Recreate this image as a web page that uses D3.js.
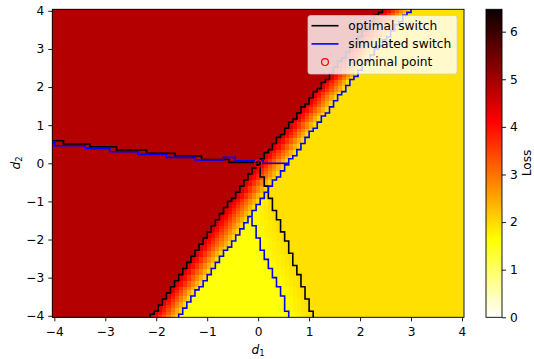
<!DOCTYPE html>
<html>
<head>
<meta charset="utf-8">
<script src="https://cdn.jsdelivr.net/npm/d3@7"></script>
<style>
  body { margin: 0; background: #fff; }
  svg { display: block; font-family: "DejaVu Sans", sans-serif; }
</style>
</head>
<body>
<script>
// ---- data ----
const xTicks = [-4, -3, -2, -1, 0, 1, 2, 3, 4];
const yTicks = [-4, -3, -2, -1, 0, 1, 2, 3, 4];
const lossTicks = [0, 1, 2, 3, 4, 5, 6];
const lossMax = 6.47;

// loss levels of the regions
const lossUpperLeft = 4.83;
const lossBandEnd = 2.0;
const lossTriangle = 1.60;
const lossRight = 1.94;

// switch curves [d1, d2]
const optBranch = [[-4.04, 0.59], [-3.82, 0.505], [-3.30, 0.435], [-2.78, 0.347], [-2.19, 0.26],
  [-1.63, 0.19], [-1.11, 0.10], [-0.57, 0.023], [0, 0.023]];
const simBranch = [[-4.04, 0.54], [-3.99, 0.461], [-3.40, 0.391], [-2.91, 0.303], [-2.35, 0.233],
  [-1.80, 0.155], [-1.24, 0.085], [-0.68, 0.155], [-0.45, 0.067], [0.10, 0.0], [0.59, 0.0]];
const optDiag = [[-2.19, -4.04], [-2.02, -3.94], [-0.55, -1.01], [0, 0], [0.43, 0.70], [1.41, 2.32], [2.43, 4.04]];
const simDiag = [[-1.57, -4.04], [-0.15, -1.40], [0.0, -1.04], [0.59, 0.0], [1.02, 0.78], [2.0, 2.45], [2.99, 4.04]];
const optLower = [[1.08, -4.04], [0.76, -2.80], [0.46, -1.71], [0.2, -0.79], [0.04, -0.18], [0, 0]];
const simLower = [[0.59, -4.04], [0.46, -3.41], [0.36, -3.11], [0.25, -2.8], [0.10, -2.35], [-0.05, -1.75], [-0.16, -1.42]];
const nominal = [[0, 0]];

// hot_r colormap anchors
const hotStops = [0, 0.253968, 0.634921, 1];
const hotColors = ["#ffffff", "#ffff00", "#ff0000", "#0b0000"];

// ---- layout ----
const W = 534, H = 359;
const step = 0.08, lo = -4.04, nCells = 101;
const x = d3.scaleLinear().domain([-4.04, 4.04]).range([52.3, 464]);
const y = d3.scaleLinear().domain([-4.04, 4.04]).range([317.3, 9.3]);
const color = d3.scaleLinear().domain(hotStops.map(t => t * lossMax)).range(hotColors);

const svg = d3.select("body").append("svg").attr("width", W).attr("height", H);

const edge = k => lo + step * k;
const snap = v => edge(Math.round((v - lo) / step));
const sortY = pts => pts.slice().sort((a, b) => a[1] - b[1]);
const xOfY = pts => { const p = sortY(pts); return d3.scaleLinear().domain(p.map(d => d[1])).range(p.map(d => d[0])); };

const fL = xOfY(optDiag), fB = xOfY(simDiag), fBR = xOfY(simLower), fK = xOfY(optLower);
const apexY = -1.42;

// ---- heatmap ----
const centers = d3.range(nCells).map(i => +(-4 + i * step).toFixed(2));
const cells = [];
centers.forEach(cy => {
  const xeL = snap(fL(cy)), xeB = snap(fB(cy));
  const xeBR = cy < apexY ? snap(fBR(cy)) : null;
  const xeK = cy <= 0 ? snap(fK(cy)) : null;
  centers.forEach(cx => {
    let v;
    if (cx < xeL) v = lossUpperLeft;
    else if (cx < xeB) v = lossUpperLeft + (lossBandEnd - lossUpperLeft) * (cx - xeL + step / 2) / (xeB - xeL);
    else if (xeBR !== null && cx < xeBR) v = lossTriangle;
    else if (xeK !== null && cx < xeK) {
      const s = xeBR !== null ? xeBR : xeB;
      v = lossTriangle + (lossRight - lossTriangle) * (cx - s + step / 2) / (xeK - s);
    } else v = lossRight;
    cells.push({ cx, cy, v });
  });
});

svg.append("g").attr("shape-rendering", "crispEdges")
  .selectAll("rect").data(cells).join("rect")
  .attr("x", d => x(d.cx - step / 2))
  .attr("y", d => y(d.cy + step / 2))
  .attr("width", d => x(d.cx + step / 2) - x(d.cx - step / 2) + 0.3)
  .attr("height", d => y(d.cy - step / 2) - y(d.cy + step / 2) + 0.3)
  .attr("fill", d => color(d.v));

// ---- switch lines ----
function stairs(pts) {
  const p = sortY(pts), f = xOfY(pts);
  const y0 = p[0][1], y1 = p[p.length - 1][1];
  const out = [];
  centers.forEach((cy, j) => {
    if (cy < y0 - 1e-9 || cy > y1 + 1e-9) return;
    const xe = snap(f(cy));
    out.push([xe, Math.max(edge(j), y0)], [xe, Math.min(edge(j + 1), y1)]);
  });
  return out;
}
const line = d3.line().x(d => x(d[0])).y(d => y(d[1]));
const stepLine = d3.line().x(d => x(d[0])).y(d => y(d[1])).curve(d3.curveStepAfter);

const lines = svg.append("g").attr("fill", "none").attr("stroke-width", 1.6).attr("stroke-linejoin", "miter");
[optDiag, optLower].forEach(p => lines.append("path").attr("stroke", "#000").attr("d", line(stairs(p))));
lines.append("path").attr("stroke", "#000").attr("d", stepLine(optBranch));
[simDiag, simLower].forEach(p => lines.append("path").attr("stroke", "#0000ff").attr("d", line(stairs(p))));
lines.append("path").attr("stroke", "#0000ff").attr("d", stepLine(simBranch));

svg.append("g").selectAll("circle").data(nominal).join("circle")
  .attr("cx", d => x(d[0])).attr("cy", d => y(d[1])).attr("r", 3.4)
  .attr("fill", "none").attr("stroke", "#ff0000").attr("stroke-width", 1.2);

// ---- axes ----
const fs = 12.2;
const gx = svg.append("g").attr("transform", `translate(0,${y.range()[0]})`)
  .call(d3.axisBottom(x).tickValues(xTicks).tickSize(4.05).tickPadding(6.0));
const gy = svg.append("g").attr("transform", `translate(${x.range()[0]},0)`)
  .call(d3.axisLeft(y).tickValues(yTicks).tickSize(4.05).tickPadding(4.05));
[gx, gy].forEach(g => {
  g.select(".domain").remove();
  g.selectAll(".tick line").attr("stroke", "#000").attr("stroke-width", 0.9);
  g.selectAll(".tick text").attr("fill", "#000").style("font-size", fs + "px").style("font-family", "DejaVu Sans");
});

svg.append("rect")
  .attr("x", x.range()[0]).attr("y", y.range()[1])
  .attr("width", x.range()[1] - x.range()[0]).attr("height", y.range()[0] - y.range()[1])
  .attr("fill", "none").attr("stroke", "#000").attr("stroke-width", 0.9);

const xl = svg.append("text").attr("x", 258).attr("y", 353.5).attr("text-anchor", "middle").style("font-size", fs + "px");
xl.append("tspan").attr("font-style", "italic").text("d");
xl.append("tspan").attr("dy", 2.7).style("font-size", "8.5px").text("1");

const yl = svg.append("text").attr("transform", "translate(19.5,163) rotate(-90)").attr("text-anchor", "middle").style("font-size", fs + "px");
yl.append("tspan").attr("font-style", "italic").text("d");
yl.append("tspan").attr("dy", 2.7).style("font-size", "8.5px").text("2");

// ---- colorbar ----
const cb = { x: 486, w: 16 };
const cScale = d3.scaleLinear().domain([0, lossMax]).range([317.3, 9.3]);
const grad = svg.append("defs").append("linearGradient").attr("id", "hotr")
  .attr("x1", 0).attr("y1", 1).attr("x2", 0).attr("y2", 0);
grad.selectAll("stop").data(hotStops).join("stop")
  .attr("offset", d => d).attr("stop-color", (d, i) => hotColors[i]);
svg.append("rect").attr("x", cb.x).attr("y", cScale.range()[1])
  .attr("width", cb.w).attr("height", cScale.range()[0] - cScale.range()[1])
  .attr("fill", "url(#hotr)").attr("stroke", "#000").attr("stroke-width", 0.9);
const gc = svg.append("g").attr("transform", `translate(${cb.x + cb.w},0)`)
  .call(d3.axisRight(cScale).tickValues(lossTicks).tickFormat(d3.format("d")).tickSize(4.05).tickPadding(4.05));
gc.select(".domain").remove();
gc.selectAll(".tick line").attr("stroke", "#000").attr("stroke-width", 0.9);
gc.selectAll(".tick text").attr("fill", "#000").style("font-size", fs + "px").style("font-family", "DejaVu Sans");
svg.append("text").attr("transform", "translate(531,163) rotate(-90)").attr("text-anchor", "middle")
  .style("font-size", fs + "px").text("Loss");

// ---- legend ----
const legendItems = ["optimal switch", "simulated switch", "nominal point"];
const lg = svg.append("g");
lg.append("rect").attr("x", 308).attr("y", 15.5).attr("width", 149).attr("height", 58.5).attr("rx", 2.5)
  .attr("fill", "#fff").attr("fill-opacity", 0.8).attr("stroke", "#cccccc").attr("stroke-opacity", 0.8).attr("stroke-width", 0.9);
const rows = lg.selectAll("g").data(legendItems).join("g")
  .attr("transform", (d, i) => `translate(0,${25.7 + i * 18.2})`);
rows.filter((d, i) => i < 2).append("line")
  .attr("x1", 311.5).attr("x2", 338.5)
  .attr("stroke", (d, i) => i === 0 ? "#000" : "#0000ff").attr("stroke-width", 1.6);
rows.filter((d, i) => i === 2).append("circle")
  .attr("cx", 325).attr("r", 3.4).attr("fill", "none").attr("stroke", "#ff0000").attr("stroke-width", 1.2);
rows.append("text").attr("x", 348.3).attr("dy", "0.35em").style("font-size", fs + "px").text(d => d);
</script>
</body>
</html>
